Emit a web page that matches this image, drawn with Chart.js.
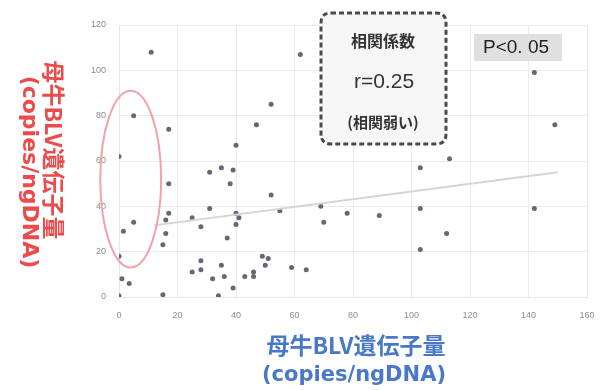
<!DOCTYPE html>
<html lang="ja">
<head>
<meta charset="UTF-8">
<title>母牛BLV遺伝子量 相関</title>
<script src="https://cdn.jsdelivr.net/npm/chart.js"></script>
<style>
    html, body { margin: 0; padding: 0; background: #fff; }
    #wrap { width: 612px; height: 390px; position: relative; }
</style>
</head>
<body>
<div id="wrap"><canvas id="chart"></canvas></div>
<script>
    // 母牛 / 子牛 の BLV 遺伝子量 (copies/ngDNA)
    const xValues = [11, 62, 5, 17, 52, 47, 40, 0, 31, 35, 39, 17, 38, 31, 40, 41, 40, 17, 16, 5,
        1.5, 25, 28, 16, 37, 15, 0, 52, 55, 69, 70, 78, 49, 51, 50, 59, 64, 46, 46, 43,
        28, 28, 25, 35, 32, 36, 39, 34, 15, 1, 3.5, 0, 103, 89, 103, 103, 112, 142, 149, 113, 142];
    const yValues = [108, 107, 80, 74, 85, 76, 67, 62, 55, 57, 56, 50, 50, 39, 37, 35, 32, 37, 34, 33,
        29, 35, 31, 28, 26, 23, 18, 45, 38, 40, 33, 37, 18, 17, 14, 13, 12, 11, 9, 9,
        16, 12, 11, 14, 8, 9, 4, 0.5, 1, 8, 6, 0.5, 57, 36, 39, 21, 28, 99, 76, 61, 39];
    // 近似直線の両端
    const trendX = [12, 150];
    const trendY = [31.6, 55];
    const xTicks = [0, 20, 40, 60, 80, 100, 120, 140, 160];
    const yTicks = [0, 20, 40, 60, 80, 100, 120];

    const titleX = ['母牛BLV遺伝子量', '(copies/ngDNA)'];
    const titleY = ['母牛BLV遺伝子量', '(copies/ngDNA)'];
    const statBox = ['相関係数', 'r=0.25', '(相関弱い)'];
    const pText = 'P<0. 05';

    const points = xValues.map((x, i) => ({ x: x, y: yValues[i] }));
    const trend = trendX.map((x, i) => ({ x: x, y: trendY[i] }));

    const jp = '"Noto Sans CJK JP", "Noto Sans", sans-serif';

    function roundRect(ctx, x, y, w, h, r) {
        ctx.beginPath();
        ctx.moveTo(x + r, y);
        ctx.lineTo(x + w - r, y);
        ctx.quadraticCurveTo(x + w, y, x + w, y + r);
        ctx.lineTo(x + w, y + h - r);
        ctx.quadraticCurveTo(x + w, y + h, x + w - r, y + h);
        ctx.lineTo(x + r, y + h);
        ctx.quadraticCurveTo(x, y + h, x, y + h - r);
        ctx.lineTo(x, y + r);
        ctx.quadraticCurveTo(x, y, x + r, y);
        ctx.closePath();
    }

    const decorations = {
        id: 'decorations',
        afterDraw(chart) {
            const ctx = chart.ctx;
            const xs = chart.scales.x, ys = chart.scales.y;
            ctx.save();

            // 赤い楕円 (x=0 付近の群)
            const cx = xs.getPixelForValue(4), cy = ys.getPixelForValue(52);
            const rx = xs.getPixelForValue(14.4) - cx;
            const ry = cy - ys.getPixelForValue(91);
            ctx.strokeStyle = '#f2a3a3';
            ctx.lineWidth = 2;
            ctx.beginPath();
            ctx.ellipse(cx, cy, rx, ry, 0, 0, Math.PI * 2);
            ctx.stroke();

            // 相関係数ボックス
            roundRect(ctx, 321, 13, 125, 131, 10);
            ctx.fillStyle = '#f6f6f6';
            ctx.fill();
            ctx.setLineDash([5, 3]);
            ctx.lineWidth = 3;
            ctx.strokeStyle = '#4a4a4a';
            ctx.stroke();
            ctx.setLineDash([]);
            ctx.fillStyle = '#333';
            ctx.textAlign = 'center';
            ctx.textBaseline = 'middle';
            ctx.font = 'bold 16px ' + jp;
            ctx.fillText(statBox[0], 383, 41);
            ctx.font = '21px "Liberation Sans", Arial, sans-serif';
            ctx.fillText(statBox[1], 384, 82);
            ctx.font = 'bold 15px ' + jp;
            ctx.fillText(statBox[2], 383, 122);

            // P値
            ctx.fillStyle = '#e0e0e0';
            ctx.fillRect(474, 34, 88, 27);
            ctx.fillStyle = '#222';
            ctx.font = '19px "Liberation Sans", Arial, sans-serif';
            ctx.fillText(pText, 516, 48);

            // 軸タイトル x
            ctx.fillStyle = '#4a78c8';
            ctx.font = 'bold 23px ' + jp;
            ctx.fillText(titleX[0], 356, 345);
            ctx.font = 'bold 21px "DejaVu Sans", sans-serif';
            ctx.fillText(titleX[1], 354, 376);

            // 軸タイトル y (時計回りに回転)
            ctx.fillStyle = '#ec4b4b';
            ctx.save();
            ctx.translate(54, 150);
            ctx.rotate(Math.PI / 2);
            ctx.font = 'bold 23px ' + jp;
            ctx.fillText(titleY[0], 0, 0);
            ctx.restore();
            ctx.save();
            ctx.translate(29, 172);
            ctx.rotate(Math.PI / 2);
            ctx.font = 'bold 22px "DejaVu Sans", sans-serif';
            ctx.fillText(titleY[1], 0, 0);
            ctx.restore();

            ctx.restore();
        }
    };

    new Chart(document.getElementById('chart'), {
        type: 'scatter',
        data: {
            datasets: [{
                type: 'line',
                data: trend,
                borderColor: '#d4d4d4',
                borderWidth: 2,
                pointRadius: 0,
                fill: false
            }, {
                data: points,
                backgroundColor: '#646875',
                borderWidth: 0,
                pointRadius: 2.5
            }]
        },
        options: {
            responsive: true,
            maintainAspectRatio: false,
            animation: false,
            layout: { padding: { top: 25, right: 25, bottom: 0, left: 0 } },
            plugins: { legend: { display: false }, tooltip: { enabled: false } },
            scales: {
                x: {
                    type: 'linear',
                    min: 0, max: 160,
                    afterBuildTicks: s => { s.ticks = xTicks.map(v => ({ value: v })); },
                    afterFit: s => { s.height = 93; },
                    grid: { color: '#ececec', drawTicks: false },
                    border: { color: '#e6e6e6' },
                    ticks: { color: '#8c8c8c', font: { size: 9 }, padding: 13 }
                },
                y: {
                    type: 'linear',
                    min: 0, max: 120,
                    afterBuildTicks: s => { s.ticks = yTicks.map(v => ({ value: v })); },
                    afterFit: s => { s.width = 119; },
                    grid: { color: '#ececec', drawTicks: false },
                    border: { color: '#e6e6e6' },
                    ticks: { color: '#8c8c8c', font: { size: 9 }, padding: 13 }
                }
            }
        },
        plugins: [decorations]
    });
</script>
</body>
</html>
